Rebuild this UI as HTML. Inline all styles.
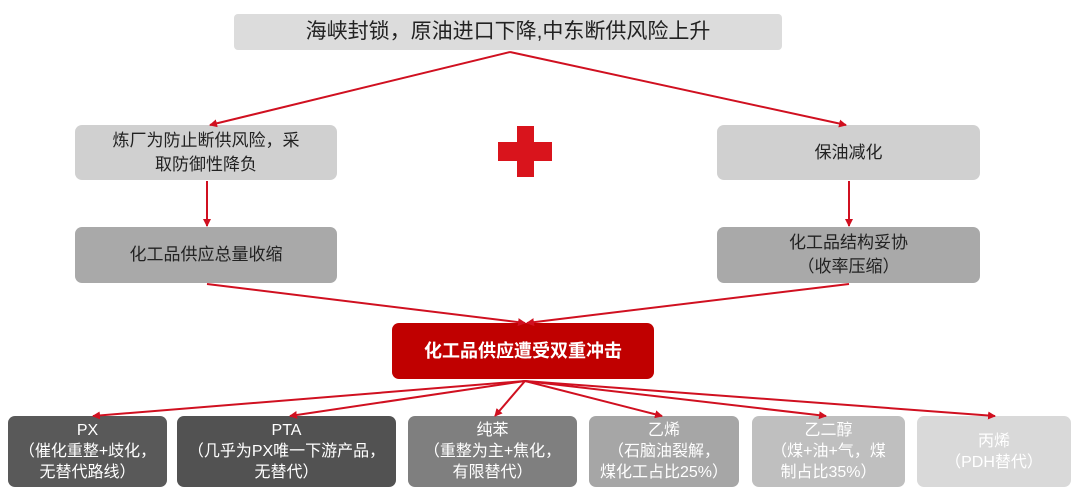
<!DOCTYPE html>
<html><head><meta charset="utf-8"><style>
body{margin:0;width:1080px;height:501px;background:#fff;position:relative;overflow:hidden;font-family:"Liberation Sans","Noto Sans CJK SC",sans-serif}
.b{position:absolute;display:flex;align-items:center;justify-content:center;text-align:center;border-radius:7px;line-height:24px}
.w{color:#fff;font-size:16px;line-height:21px}
svg{position:absolute;left:0;top:0}
</style></head><body>
<div class="b" style="left:234px;top:14px;width:548px;height:36px;background:#dcdcdc;font-size:21px;color:#222;border-radius:4px">海峡封锁，原油进口下降,中东断供风险上升</div>
<div class="b" style="left:75px;top:125px;width:262px;height:55px;background:#d0d0d0;font-size:17px;color:#222">炼厂为防止断供风险，采<br>取防御性降负</div>
<div class="b" style="left:717px;top:125px;width:263px;height:55px;background:#d0d0d0;font-size:17px;color:#222">保油减化</div>
<div class="b" style="left:75px;top:227px;width:262px;height:56px;background:#a9a9a9;font-size:17px;color:#222">化工品供应总量收缩</div>
<div class="b" style="left:717px;top:227px;width:263px;height:56px;background:#a9a9a9;font-size:17px;color:#222">化工品结构妥协<br>（收率压缩）</div>
<div class="b" style="left:392px;top:323px;width:262px;height:56px;background:#c00000;font-size:18px;color:#fff;font-weight:bold">化工品供应遭受双重冲击</div>
<div style="position:absolute;left:498px;top:142px;width:54px;height:19px;background:#d9141c"></div>
<div style="position:absolute;left:517px;top:126px;width:17px;height:51px;background:#d9141c"></div>
<div class="b w" style="left:8px;top:416px;width:159px;height:71px;background:#595959">PX<br>（催化重整+歧化，<br>无替代路线）</div>
<div class="b w" style="left:177px;top:416px;width:219px;height:71px;background:#525252">PTA<br>（几乎为PX唯一下游产品，<br>无替代）</div>
<div class="b w" style="left:408px;top:416px;width:169px;height:71px;background:#7f7f7f">纯苯<br>（重整为主+焦化，<br>有限替代）</div>
<div class="b w" style="left:589px;top:416px;width:150px;height:71px;background:#a6a6a6">乙烯<br>（石脑油裂解，<br>煤化工占比25%）</div>
<div class="b w" style="left:752px;top:416px;width:153px;height:71px;background:#bfbfbf">乙二醇<br>（煤+油+气，煤<br>制占比35%）</div>
<div class="b w" style="left:917px;top:416px;width:154px;height:71px;background:#d9d9d9">丙烯<br>（PDH替代）</div>
<svg width="1080" height="501"><defs><marker id="a" markerWidth="8" markerHeight="8" refX="7" refY="4" orient="auto" markerUnits="userSpaceOnUse"><path d="M0,0L8,4L0,8z" fill="#d01020"/></marker></defs>
<g stroke="#d01020" stroke-width="2" fill="none" marker-end="url(#a)">
<line x1="510" y1="52" x2="210" y2="125"/>
<line x1="510" y1="52" x2="846" y2="125"/>
<line x1="207" y1="181" x2="207" y2="226"/>
<line x1="849" y1="181" x2="849" y2="226"/>
<line x1="207" y1="284" x2="525" y2="323"/>
<line x1="849" y1="284" x2="527" y2="323"/>
<line x1="525" y1="381" x2="93" y2="416"/>
<line x1="525" y1="381" x2="290" y2="416"/>
<line x1="525" y1="381" x2="495" y2="416"/>
<line x1="525" y1="381" x2="662" y2="416"/>
<line x1="525" y1="381" x2="826" y2="416"/>
<line x1="525" y1="381" x2="995" y2="416"/>
</g></svg>
</body></html>
